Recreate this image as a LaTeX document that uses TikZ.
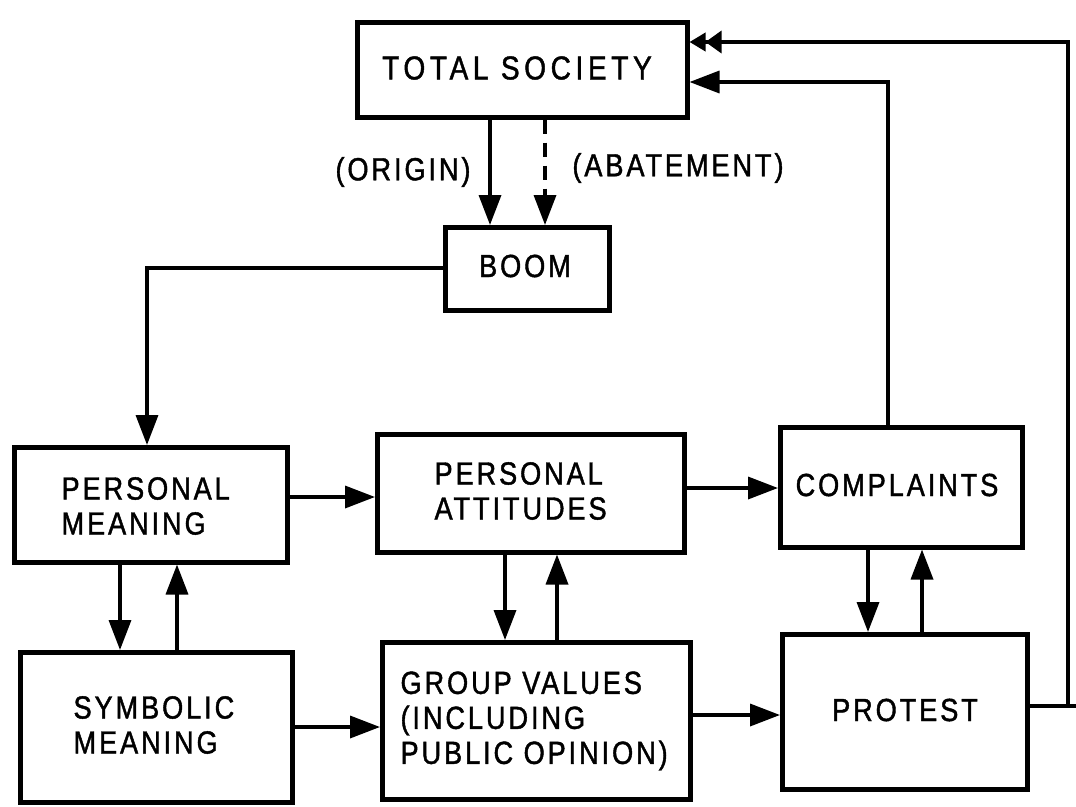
\documentclass[tikz,border=0pt]{standalone}
\usepackage{fontspec}
\setmainfont{Liberation Sans}[LetterSpace=9, FakeStretch=0.85, FakeBold=1.3]
\usetikzlibrary{arrows.meta}
\tikzset{
  x=1pt, y=-1pt,
  box/.style={draw, line width=4.5pt, inner sep=0pt, anchor=north west},
  lbl/.style={font=\fontsize{32}{35}\selectfont, align=left},
  conn/.style={line width=3.5pt, -{Triangle[length=30pt,width=22pt]}},
  plain/.style={line width=3.5pt},
}
\begin{document}
\begin{tikzpicture}
\useasboundingbox (0,0) rectangle (1076,806);
% boxes
\node[box, minimum width=330pt, minimum height=95pt] (ts) at (355,20) {};
\node[box, minimum width=164pt, minimum height=83pt] (boom) at (443,225) {};
\node[box, minimum width=273pt, minimum height=115pt] (pm) at (12,445) {};
\node[box, minimum width=307pt, minimum height=118pt] (pa) at (375,432) {};
\node[box, minimum width=242pt, minimum height=120pt] (cp) at (778,425) {};
\node[box, minimum width=272pt, minimum height=150pt] (sm) at (18,650) {};
\node[box, minimum width=308pt, minimum height=157pt] (gv) at (380,640) {};
\node[box, minimum width=245pt, minimum height=155pt] (pr) at (780,632) {};
% texts
\node[lbl, font=\fontsize{33}{35}\selectfont\addfontfeature{LetterSpace=14}] (tst) at (517,68) {TOTAL SOCIETY};
\node[lbl] (boomt) at (525,266) {BOOM};
\node[lbl, anchor=west] (pmt) at (58,506) {PERSONAL\\MEANING};
\node[lbl, anchor=west] (pat) at (431,491) {PERSONAL\\ATTITUDES};
\node[lbl] (cpt) at (897,485) {COMPLAINTS};
\node[lbl, anchor=west] (smt) at (70,725) {SYMBOLIC\\MEANING};
\node[lbl, anchor=west] (gvt) at (397,721) {GROUP VALUES\\(INCLUDING\\PUBLIC OPINION)};
\node[lbl] (prt) at (905,710) {PROTEST};
\node[lbl] (orig) at (403,172) {(ORIGIN)};
\node[lbl] (abat) at (678,168) {(ABATEMENT)};
% connectors
\draw[conn] (ts.south -| 490,0) -- (boom.north -| 490,0);
\draw[conn, dash pattern=on 14pt off 9pt] (ts.south -| 545,0) -- (boom.north -| 545,0);
\draw[conn] (boom.west |- 0,268) -| (pm.north -| 147,0);
\draw[conn] (pm.east |- 0,497) -- (pa.west |- 0,497);
\draw[conn] (pa.east |- 0,488) -- (cp.west |- 0,488);
\draw[conn] (sm.east |- 0,727) -- (gv.west |- 0,727);
\draw[conn] (gv.east |- 0,715) -- (pr.west |- 0,715);
\draw[conn] (pm.south -| 120,0) -- (sm.north -| 120,0);
\draw[conn] (sm.north -| 177,0) -- (pm.south -| 177,0);
\draw[conn] (pa.south -| 505,0) -- (gv.north -| 505,0);
\draw[conn] (gv.north -| 557,0) -- (pa.south -| 557,0);
\draw[conn] (cp.south -| 868,0) -- (pr.north -| 868,0);
\draw[conn] (pr.north -| 922,0) -- (cp.south -| 922,0);
\draw[conn] (cp.north -| 888,0) |- (ts.east |- 0,82);
\coordinate (rc) at (1068,706);
\draw[plain] (pr.east |- 0,706) -- (1076,706);
\draw[line width=3.5pt, -{Triangle[length=16pt,width=22pt]Triangle[length=16pt,width=18pt]}] (rc) |- (ts.east |- 0,42);
\end{tikzpicture}
\end{document}
